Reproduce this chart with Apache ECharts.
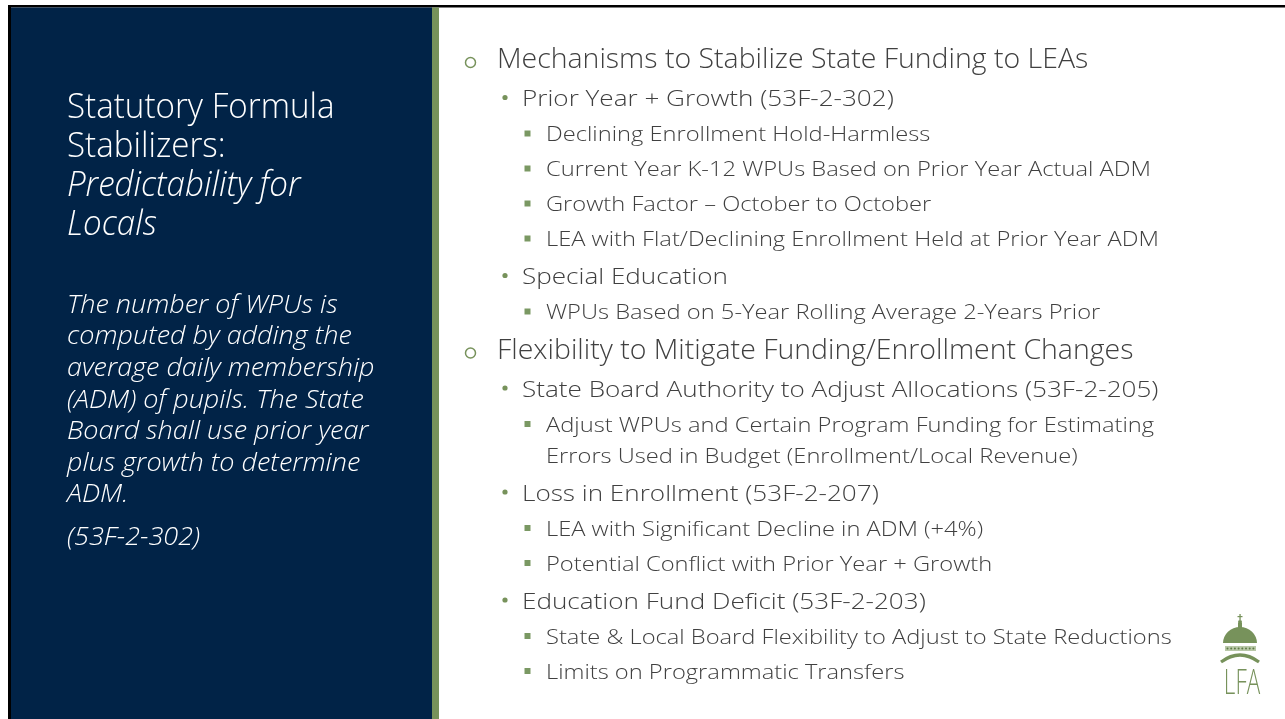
<!DOCTYPE html>
<html><head><meta charset="utf-8">
<script src="https://cdn.jsdelivr.net/npm/echarts@6/dist/echarts.min.js"></script>
<style>html,body{margin:0;padding:0;background:#fff;}#c{width:1285px;height:719px;}</style>
</head><body><div id="c"></div>
<script>
// ---- content ----
const titleLines = ['Statutory Formula', 'Stabilizers:', 'Predictability for', 'Locals'];
const titleItalic = [false, false, true, true];
const noteLines = ['The number of WPUs is', 'computed by adding the', 'average daily membership', '(ADM) of pupils. The State', 'Board shall use prior year', 'plus growth to determine', 'ADM.'];
const citation = '(53F-2-302)';
const bulletTexts = [
  'Mechanisms to Stabilize State Funding to LEAs',
  'Prior Year + Growth (53F-2-302)',
  'Declining Enrollment Hold-Harmless',
  'Current Year K-12 WPUs Based on Prior Year Actual ADM',
  'Growth Factor \u2013 October to October',
  'LEA with Flat/Declining Enrollment Held at Prior Year ADM',
  'Special Education',
  'WPUs Based on 5-Year Rolling Average 2-Years Prior',
  'Flexibility to Mitigate Funding/Enrollment Changes',
  'State Board Authority to Adjust Allocations (53F-2-205)',
  'Adjust WPUs and Certain Program Funding for Estimating',
  'Errors Used in Budget (Enrollment/Local Revenue)',
  'Loss in Enrollment (53F-2-207)',
  'LEA with Significant Decline in ADM (+4%)',
  'Potential Conflict with Prior Year + Growth',
  'Education Fund Deficit (53F-2-203)',
  'State & Local Board Flexibility to Adjust to State Reductions',
  'Limits on Programmatic Transfers'
];
const bulletLevels = [1, 2, 3, 3, 3, 3, 2, 3, 1, 2, 3, 3, 2, 3, 3, 2, 3, 3];
const bulletWrapped = [false, false, false, false, false, false, false, false, false, false, false, true, false, false, false, false, false, false];
const logoText = 'LFA';

// ---- styling / layout ----
const FONT = '"Open Sans", "Noto Sans", sans-serif';
const GREEN = '#77925B';
const NAVY = '#012347';
const GREY = '#404040';
const MID = 0.27; // baseline -> middle offset (fraction of font size)

function txt(s, x, baseline, size, color, italic, sx, align) {
  return {
    type: 'text', x: x, y: baseline - MID * size, scaleX: sx, silent: true,
    style: {
      text: s, x: 0, y: 0, fill: color,
      font: (italic ? 'italic ' : '') + '300 ' + size + 'px ' + FONT,
      align: align || 'left', verticalAlign: 'middle'
    }
  };
}

const els = [];
els.push({ type: 'rect', shape: { x: 0, y: 0, width: 1285, height: 719 }, style: { fill: '#fff' } });
els.push({ type: 'rect', shape: { x: 8, y: 5, width: 1277, height: 2.5 }, style: { fill: '#000' } });
els.push({ type: 'rect', shape: { x: 8, y: 5, width: 3, height: 714 }, style: { fill: '#000' } });
els.push({ type: 'rect', shape: { x: 11, y: 7.5, width: 421, height: 712 }, style: { fill: NAVY } });
els.push({ type: 'rect', shape: { x: 432, y: 7.5, width: 7, height: 712 }, style: { fill: GREEN } });

// left panel title
const TITLE_SIZE = 34, TITLE_SX = 0.975, TITLE_LH = 39, TITLE_B0 = 117;
titleLines.forEach((s, i) => els.push(txt(s, 67, TITLE_B0 + i * TITLE_LH, TITLE_SIZE, '#ffffff', titleItalic[i], TITLE_SX)));
// left panel note
const NOTE_SIZE = 25, NOTE_SX = 1.08, NOTE_LH = 31.6, NOTE_B0 = 312.5;
noteLines.forEach((s, i) => els.push(txt(s, 67, NOTE_B0 + i * NOTE_LH, NOTE_SIZE, '#ffffff', true, NOTE_SX)));
els.push(txt(citation, 67, NOTE_B0 + (noteLines.length - 1) * NOTE_LH + 43, NOTE_SIZE, '#ffffff', true, NOTE_SX));

// right bullets
const LV = {
  1: { size: 27.5, sx: 1.035, x: 497, adv: 39.5 },
  2: { size: 22.5, sx: 1.16, x: 522, adv: 38 },
  3: { size: 20.5, sx: 1.155, x: 546, adv: 35 }
};
let base = 68;
bulletTexts.forEach((s, i) => {
  const lv = bulletLevels[i];
  const cfg = LV[lv];
  if (i > 0) base += bulletWrapped[i] ? 31 : cfg.adv;
  els.push(txt(s, cfg.x, base, cfg.size, GREY, false, cfg.sx));
  if (bulletWrapped[i]) return;
  if (lv === 1) {
    els.push({ type: 'circle', silent: true, shape: { cx: 470.5, cy: base - 5.5, r: 5 }, style: { fill: 'none', stroke: GREEN, lineWidth: 1.5 } });
  } else if (lv === 2) {
    els.push({ type: 'circle', silent: true, shape: { cx: 505, cy: base - 8.5, r: 2.6 }, style: { fill: GREEN } });
  } else {
    els.push({ type: 'rect', silent: true, shape: { x: 524.5, y: base - 10.5, width: 6, height: 6 }, style: { fill: '#7A9863' } });
  }
});

// logo
els.push({ type: 'rect', silent: true, shape: { x: 1239.4, y: 614, width: 1.3, height: 6 }, style: { fill: GREEN } });
els.push({ type: 'rect', silent: true, shape: { x: 1237.5, y: 616, width: 5, height: 1.2 }, style: { fill: GREEN } });
els.push({ type: 'circle', silent: true, shape: { cx: 1240, cy: 622, r: 2 }, style: { fill: GREEN } });
els.push({ type: 'rect', silent: true, shape: { x: 1238, y: 623, width: 4, height: 5 }, style: { fill: GREEN } });
els.push({ type: 'sector', silent: true, x: 1240, y: 643, scaleY: 16 / 17, shape: { cx: 0, cy: 0, r: 17, r0: 0, startAngle: Math.PI, endAngle: Math.PI * 2, clockwise: true }, style: { fill: GREEN } });
els.push({ type: 'rect', silent: true, shape: { x: 1225, y: 646, width: 31, height: 5 }, style: { fill: '#B9C8A8' } });
for (let k = 0; k < 8; k++) {
  els.push({ type: 'circle', silent: true, shape: { cx: 1227.5 + k * 3.7, cy: 648.5, r: 1 }, style: { fill: '#5E7A45' } });
}
els.push({ type: 'bezierCurve', silent: true, shape: { x1: 1221, y1: 662, x2: 1259, y2: 662, cpx1: 1240, cpy1: 648 }, style: { fill: 'none', stroke: GREEN, lineWidth: 3.2 } });
els.push(txt(logoText, 1242, 693, 34, GREEN, false, 0.66, 'center'));

const chart = echarts.init(document.getElementById('c'), null, { renderer: 'canvas', width: 1285, height: 719 });
chart.setOption({ animation: false, graphic: { elements: els } });
</script>
</body></html>
